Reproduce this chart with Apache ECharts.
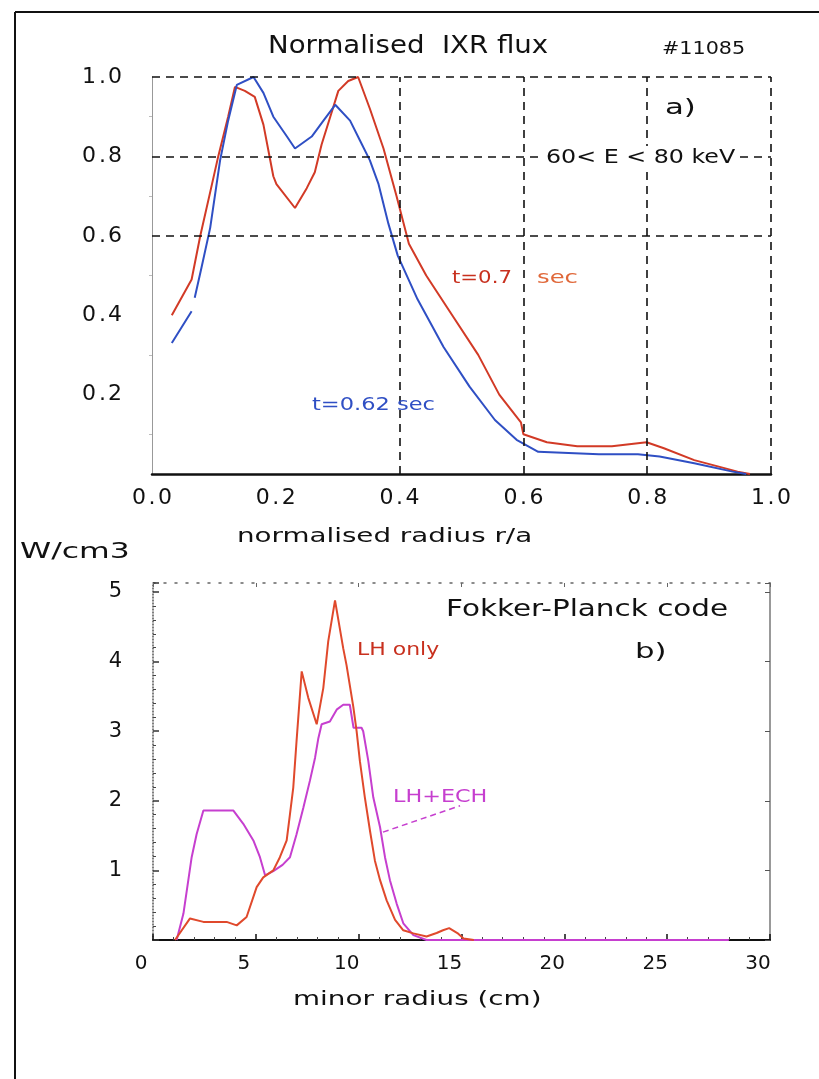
<!DOCTYPE html>
<html><head><meta charset="utf-8">
<script src="https://cdn.jsdelivr.net/npm/echarts@6/dist/echarts.min.js"></script>
<style>html,body{margin:0;padding:0;background:#fff}#c{width:819px;height:1079px}</style>
</head><body><div id="c"></div>
<script>
// ---- panel a) normalised IXR flux vs normalised radius r/a ----
const fluxT070 = [[0.032,0.40],[0.064,0.49],[0.078,0.60],[0.094,0.71],[0.107,0.80],[0.123,0.90],[0.134,0.975],[0.15,0.965],[0.166,0.95],[0.18,0.88],[0.196,0.75],[0.201,0.73],[0.231,0.67],[0.25,0.72],[0.263,0.76],[0.274,0.83],[0.288,0.90],[0.301,0.965],[0.317,0.99],[0.333,1.0],[0.352,0.92],[0.374,0.82],[0.395,0.70],[0.415,0.58],[0.443,0.50],[0.485,0.40],[0.527,0.30],[0.561,0.20],[0.596,0.13],[0.60,0.10],[0.638,0.08],[0.687,0.07],[0.743,0.07],[0.799,0.08],[0.827,0.065],[0.876,0.035],[0.946,0.006],[0.966,0]];
const fluxT062 = [[0.032,0.33],[0.064,0.41],[0.066,null],[0.069,0.444],[0.08,0.52],[0.094,0.62],[0.11,0.79],[0.123,0.89],[0.137,0.98],[0.164,1.0],[0.18,0.96],[0.196,0.90],[0.218,0.85],[0.231,0.82],[0.258,0.85],[0.277,0.89],[0.296,0.93],[0.32,0.89],[0.336,0.84],[0.352,0.79],[0.366,0.73],[0.382,0.63],[0.397,0.55],[0.429,0.44],[0.471,0.32],[0.513,0.22],[0.554,0.136],[0.589,0.086],[0.624,0.056],[0.722,0.05],[0.785,0.05],[0.82,0.044],[0.876,0.027],[0.938,0.006],[0.96,0]];
const gridLinesYA = [0.6, 0.8, 1.0];
const gridLinesXA = [0.4, 0.6, 0.8, 1.0];

// ---- panel b) Fokker-Planck code, W/cm3 vs minor radius (cm) ----
const lhOnly = [[1.07,0],[1.8,0.31],[2.45,0.26],[3.58,0.26],[4.07,0.21],[4.55,0.33],[5.04,0.76],[5.36,0.9],[5.85,1.0],[6.17,1.19],[6.5,1.43],[6.66,1.81],[6.82,2.19],[6.98,2.86],[7.23,3.86],[7.55,3.48],[7.96,3.1],[8.28,3.62],[8.52,4.29],[8.85,4.88],[9.25,4.19],[9.41,3.95],[9.74,3.35],[9.9,3.0],[10.06,2.57],[10.3,2.05],[10.55,1.57],[10.79,1.14],[11.04,0.86],[11.36,0.57],[11.77,0.29],[12.17,0.14],[12.66,0.095],[13.3,0.05],[13.79,0.1],[14.1,0.14],[14.4,0.17],[14.8,0.1],[15.1,0.02],[15.6,0]];
const lhEch = [[1.15,0],[1.48,0.38],[1.88,1.19],[2.12,1.52],[2.45,1.86],[3.91,1.86],[4.39,1.67],[4.88,1.43],[5.2,1.19],[5.45,0.93],[5.85,0.99],[6.3,1.08],[6.66,1.19],[6.98,1.52],[7.31,1.9],[7.63,2.29],[7.88,2.62],[8.04,2.9],[8.2,3.1],[8.6,3.14],[8.93,3.31],[9.25,3.38],[9.57,3.38],[9.75,3.05],[10.14,3.05],[10.22,3.0],[10.47,2.57],[10.71,2.05],[11.04,1.62],[11.28,1.19],[11.52,0.86],[11.85,0.52],[12.17,0.24],[12.66,0.07],[13.3,0],[28,0]];
const leaderLhEch = [[11.18,1.55],[14.93,1.93]];

const FONT = 'DejaVu Sans';
const RED = '#d23a26', BLUE = '#2f4fc4', LHRED = '#e0492c', MAG = '#c63fcf';

// wide "bitmap-like" tick labels: each character in its own cell
const wideRich = {
  d:{width:16, fontSize:22, fontFamily:FONT, color:'#111'},
  p:{width:10, fontSize:22, fontFamily:FONT, color:'#111'}
};
const wideFmt = s => s.split('').map(c => c === '.' ? '{p|.}' : '{d|' + c + '}').join('');

const chart = echarts.init(document.getElementById('c'), null, {renderer:'canvas'});
const txt = (x, y, text, size, fill, sx, extra) => ({
  type:'text', x:x, y:y, z:50, scaleX:sx || 1,
  style:Object.assign({text:text, fontSize:size, fontFamily:FONT, fill:fill||'#111', verticalAlign:'middle'}, extra||{})
});
chart.setOption({
  animation:false,
  backgroundColor:'#fff',
  grid:[
    {left:152, top:77, width:619, height:397},
    {left:153, top:583, width:617, height:357}
  ],
  xAxis:[
    {gridIndex:0, type:'value', min:0, max:1, interval:0.2,
     axisLine:{show:true, onZero:false, lineStyle:{color:'#111', width:2.5}},
     axisTick:{show:false}, splitLine:{show:false},
     axisLabel:{margin:13, formatter:v=>wideFmt(v.toFixed(1)), rich:wideRich}},
    {gridIndex:1, type:'value', min:0, max:30, interval:5,
     axisLine:{show:true, onZero:false, lineStyle:{color:'#111', width:2}},
     axisTick:{show:true, inside:true, length:6, lineStyle:{color:'#111', width:1.5}},
     minorTick:{show:true, splitNumber:5, length:3, lineStyle:{color:'#444'}},
     splitLine:{show:false},
     axisLabel:{margin:14, fontSize:20, fontFamily:FONT, color:'#111', padding:[0,24,0,0]}},
    {gridIndex:1, type:'value', position:'top', min:0, max:30, interval:5,
     axisLine:{show:true, onZero:false, lineStyle:{color:'#666', width:1.5, type:[2,9]}},
     axisTick:{show:true, inside:true, length:4, lineStyle:{color:'#666'}},
     splitLine:{show:false}, axisLabel:{show:false}}
  ],
  yAxis:[
    {gridIndex:0, type:'value', min:0, max:1, interval:0.2,
     axisLine:{show:true, onZero:false, lineStyle:{color:'#999', width:1}},
     axisTick:{show:false},
     minorTick:{show:true, splitNumber:2, length:3, lineStyle:{color:'#bbb'}},
     splitLine:{show:false},
     axisLabel:{margin:30, formatter:v=>v===0?'':wideFmt(v.toFixed(1)), rich:wideRich}},
    {gridIndex:1, type:'value', min:0, max:5.13, interval:1,
     axisLine:{show:true, onZero:false, lineStyle:{color:'#555', width:1.5, type:[1,2]}},
     axisTick:{show:true, inside:true, length:6, lineStyle:{color:'#333', width:1.5}},
     minorTick:{show:true, splitNumber:5, length:3, lineStyle:{color:'#444'}},
     splitLine:{show:false},
     axisLabel:{margin:31, fontSize:21, fontFamily:FONT, color:'#111',
       formatter:v=>(v>0 && Math.abs(v-Math.round(v))<1e-6)?String(Math.round(v)):''}},
    {gridIndex:1, type:'value', position:'right', min:0, max:5.13, interval:1,
     axisLine:{show:true, onZero:false, lineStyle:{color:'#777', width:1.5}},
     axisTick:{show:true, inside:true, length:5, lineStyle:{color:'#555'}},
     splitLine:{show:false}, axisLabel:{show:false}}
  ],
  series:[
    {type:'line', xAxisIndex:0, yAxisIndex:0, data:[], z:1, silent:true,
     markLine:{silent:true, symbol:'none', label:{show:false},
       lineStyle:{color:'#111', width:1.6, type:[8,6]},
       data:gridLinesYA.map(v=>({yAxis:v})).concat(gridLinesXA.map(v=>({xAxis:v})))}},
    {name:'t=0.7 sec', type:'line', xAxisIndex:0, yAxisIndex:0, data:fluxT070, showSymbol:false, z:3,
     lineStyle:{color:RED, width:2}, connectNulls:false},
    {name:'t=0.62 sec', type:'line', xAxisIndex:0, yAxisIndex:0, data:fluxT062, showSymbol:false, z:3,
     lineStyle:{color:BLUE, width:2}, connectNulls:false},
    {name:'LH+ECH', type:'line', xAxisIndex:1, yAxisIndex:1, data:lhEch, showSymbol:false, z:3,
     lineStyle:{color:MAG, width:2}},
    {name:'LH only', type:'line', xAxisIndex:1, yAxisIndex:1, data:lhOnly, showSymbol:false, z:4,
     lineStyle:{color:LHRED, width:2}},
    {name:'leader', type:'line', xAxisIndex:1, yAxisIndex:1, data:leaderLhEch, showSymbol:false, z:4,
     lineStyle:{color:MAG, width:1.5, type:[6,4]}}
  ],
  graphic:[
    {type:'line', z:60, shape:{x1:15, y1:12, x2:819, y2:12}, style:{stroke:'#111', lineWidth:2}},
    {type:'line', z:60, shape:{x1:15, y1:12, x2:15, y2:1079}, style:{stroke:'#111', lineWidth:2}},
    txt(268, 47, 'Normalised  IXR flux', 24, '#111', 1.15),
    txt(662, 49, '#11085', 18, '#111', 1.15),
    txt(665, 108, 'a)', 22, '#111', 1.4),
    {type:'rect', z:49, shape:{x:540, y:146, width:200, height:24}, style:{fill:'#fff'}},
    txt(546, 158, '60< E < 80 keV', 19, '#111', 1.25),
    txt(452, 278, 't=0.7', 18, '#c8301e', 1.18),
    txt(537, 278, 'sec', 18, '#e0683a', 1.35),
    txt(312, 405, 't=0.62 sec', 18, BLUE, 1.25),
    txt(237, 537, 'normalised radius r/a', 19, '#111', 1.46),
    txt(20, 553, 'W/cm3', 21, '#111', 1.5),
    txt(446, 610, 'Fokker-Planck code', 23, '#111', 1.28),
    txt(635, 652, 'b)', 22, '#111', 1.4),
    txt(357, 650, 'LH only', 18, '#c8301e', 1.22),
    txt(393, 797, 'LH+ECH', 18, MAG, 1.24),
    txt(293, 1000, 'minor radius (cm)', 20, '#111', 1.39)
  ]
});
</script></body></html>
